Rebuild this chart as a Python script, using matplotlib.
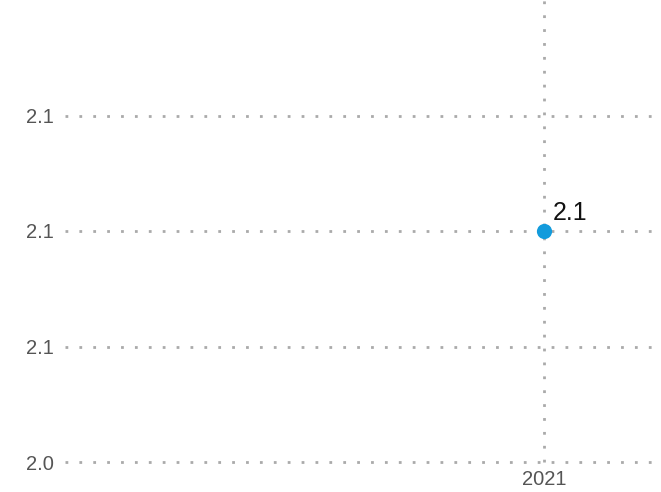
import matplotlib.pyplot as plt

# dados
years = [2021]
values = [2.1]
ytick_vals = [2.0, 2.05, 2.1, 2.15]
ytick_labels = ['2.0', '2.1', '2.1', '2.1']

plt.rcParams['font.family'] = ['Liberation Sans', 'DejaVu Sans']

fig = plt.figure(figsize=(6.61, 4.92), dpi=100)
ax = fig.add_axes([65/661, 30/492, 596/661, 462/492])

ax.scatter(years, values, s=120, color='#139bdc', zorder=3, linewidths=0)
for x, y in zip(years, values):
    ax.annotate(f'{y:.1f}', (x, y), xytext=(6.5, 4), textcoords='offset points',
                fontsize=18, color='#111111', ha='left', va='bottom')

ax.set_xlim(2020, 2021.244)
ax.set_ylim(2.0, 2.2)
ax.set_xticks(years)
ax.set_xticklabels([str(y) for y in years])
ax.set_yticks(ytick_vals)
ax.set_yticklabels(ytick_labels)

ax.grid(True, color='#aaaaaa', linestyle=(0, (1, 4)), linewidth=2)
for gl in ax.get_xgridlines() + ax.get_ygridlines():
    gl.set_clip_on(False)
ax.tick_params(length=0, labelsize=14.5, labelcolor='#555555', pad=8)
ax.tick_params(axis='x', pad=6)
for s in ax.spines.values():
    s.set_visible(False)

fig.savefig('out.png', dpi=100)
